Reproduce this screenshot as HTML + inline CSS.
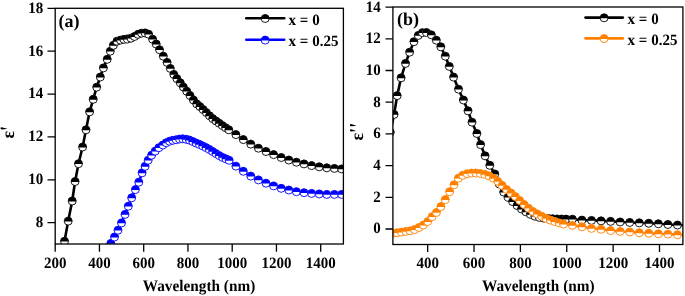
<!DOCTYPE html><html><head><meta charset="utf-8"><style>html,body{margin:0;padding:0;background:#fff;width:685px;height:296px;overflow:hidden}svg{display:block;will-change:transform}text{font-family:"Liberation Serif",serif;font-weight:bold;text-rendering:geometricPrecision}</style></head><body>
<svg width="685" height="296" viewBox="0 0 685 296">
<defs><clipPath id="cl"><rect x="55.2" y="8.3" width="288.2" height="235.7"/></clipPath><clipPath id="cr"><rect x="392.9" y="7.0" width="290.0" height="237.5"/></clipPath></defs>
<path d="M61.00,259.85 L64.50,241.20 L68.20,221.10 L72.20,201.00 L75.10,181.50 L78.50,163.70 L82.60,147.00 L86.00,129.80 L89.60,111.86 L93.20,99.30 L96.70,87.20 L100.30,77.00 L103.40,67.90 L107.20,59.30 L110.30,51.20 L113.40,45.30 L116.92,41.23 L120.44,40.11 L123.96,39.36 L127.48,38.99 L131.00,38.20 L134.52,36.48 L138.04,34.34 L141.56,33.17 L145.08,32.93 L148.60,34.17 L152.60,39.20 L156.20,44.00 L159.50,49.70 L163.30,56.20 L167.10,62.40 L170.30,68.40 L173.80,74.40 L176.90,78.60 L180.30,82.80 L183.30,87.00 L186.70,91.20 L190.00,95.50 L193.40,100.00 L196.70,103.90 L199.91,106.58 L203.12,109.55 L206.33,112.57 L209.54,115.78 L212.75,118.61 L215.96,120.96 L219.17,123.28 L222.38,125.55 L225.59,127.69 L228.80,129.80 L235.90,134.57 L243.30,139.57 L250.80,144.10 L258.40,148.20 L266.00,151.50 L273.60,154.60 L281.20,157.50 L288.80,160.00 L296.40,162.20 L304.00,163.90 L311.60,165.60 L319.20,166.80 L326.80,167.80 L334.40,168.40 L341.60,168.92 L349.20,169.27" fill="none" stroke="#000" stroke-width="2.6" stroke-linejoin="round" clip-path="url(#cl)"/>
<g clip-path="url(#cl)"><circle cx="61.00" cy="259.85" r="4.0" fill="#fff"/><path d="M57.02,260.25A4.0,4.0 0 1 1 64.98,260.25Z" fill="#000"/><circle cx="61.00" cy="259.85" r="4.0" fill="none" stroke="#000" stroke-width="0.9"/><circle cx="64.50" cy="241.20" r="4.0" fill="#fff"/><path d="M60.52,241.60A4.0,4.0 0 1 1 68.48,241.60Z" fill="#000"/><circle cx="64.50" cy="241.20" r="4.0" fill="none" stroke="#000" stroke-width="0.9"/><circle cx="68.20" cy="221.10" r="4.0" fill="#fff"/><path d="M64.22,221.50A4.0,4.0 0 1 1 72.18,221.50Z" fill="#000"/><circle cx="68.20" cy="221.10" r="4.0" fill="none" stroke="#000" stroke-width="0.9"/><circle cx="72.20" cy="201.00" r="4.0" fill="#fff"/><path d="M68.22,201.40A4.0,4.0 0 1 1 76.18,201.40Z" fill="#000"/><circle cx="72.20" cy="201.00" r="4.0" fill="none" stroke="#000" stroke-width="0.9"/><circle cx="75.10" cy="181.50" r="4.0" fill="#fff"/><path d="M71.12,181.90A4.0,4.0 0 1 1 79.08,181.90Z" fill="#000"/><circle cx="75.10" cy="181.50" r="4.0" fill="none" stroke="#000" stroke-width="0.9"/><circle cx="78.50" cy="163.70" r="4.0" fill="#fff"/><path d="M74.52,164.10A4.0,4.0 0 1 1 82.48,164.10Z" fill="#000"/><circle cx="78.50" cy="163.70" r="4.0" fill="none" stroke="#000" stroke-width="0.9"/><circle cx="82.60" cy="147.00" r="4.0" fill="#fff"/><path d="M78.62,147.40A4.0,4.0 0 1 1 86.58,147.40Z" fill="#000"/><circle cx="82.60" cy="147.00" r="4.0" fill="none" stroke="#000" stroke-width="0.9"/><circle cx="86.00" cy="129.80" r="4.0" fill="#fff"/><path d="M82.02,130.20A4.0,4.0 0 1 1 89.98,130.20Z" fill="#000"/><circle cx="86.00" cy="129.80" r="4.0" fill="none" stroke="#000" stroke-width="0.9"/><circle cx="89.60" cy="111.86" r="4.0" fill="#fff"/><path d="M85.62,112.26A4.0,4.0 0 1 1 93.58,112.26Z" fill="#000"/><circle cx="89.60" cy="111.86" r="4.0" fill="none" stroke="#000" stroke-width="0.9"/><circle cx="93.20" cy="99.30" r="4.0" fill="#fff"/><path d="M89.22,99.70A4.0,4.0 0 1 1 97.18,99.70Z" fill="#000"/><circle cx="93.20" cy="99.30" r="4.0" fill="none" stroke="#000" stroke-width="0.9"/><circle cx="96.70" cy="87.20" r="4.0" fill="#fff"/><path d="M92.72,87.60A4.0,4.0 0 1 1 100.68,87.60Z" fill="#000"/><circle cx="96.70" cy="87.20" r="4.0" fill="none" stroke="#000" stroke-width="0.9"/><circle cx="100.30" cy="77.00" r="4.0" fill="#fff"/><path d="M96.32,77.40A4.0,4.0 0 1 1 104.28,77.40Z" fill="#000"/><circle cx="100.30" cy="77.00" r="4.0" fill="none" stroke="#000" stroke-width="0.9"/><circle cx="103.40" cy="67.90" r="4.0" fill="#fff"/><path d="M99.42,68.30A4.0,4.0 0 1 1 107.38,68.30Z" fill="#000"/><circle cx="103.40" cy="67.90" r="4.0" fill="none" stroke="#000" stroke-width="0.9"/><circle cx="107.20" cy="59.30" r="4.0" fill="#fff"/><path d="M103.22,59.70A4.0,4.0 0 1 1 111.18,59.70Z" fill="#000"/><circle cx="107.20" cy="59.30" r="4.0" fill="none" stroke="#000" stroke-width="0.9"/><circle cx="110.30" cy="51.20" r="4.0" fill="#fff"/><path d="M106.32,51.60A4.0,4.0 0 1 1 114.28,51.60Z" fill="#000"/><circle cx="110.30" cy="51.20" r="4.0" fill="none" stroke="#000" stroke-width="0.9"/><circle cx="113.40" cy="45.30" r="4.0" fill="#fff"/><path d="M109.42,45.70A4.0,4.0 0 1 1 117.38,45.70Z" fill="#000"/><circle cx="113.40" cy="45.30" r="4.0" fill="none" stroke="#000" stroke-width="0.9"/><circle cx="116.92" cy="41.23" r="4.0" fill="#fff"/><path d="M112.94,41.63A4.0,4.0 0 1 1 120.90,41.63Z" fill="#000"/><circle cx="116.92" cy="41.23" r="4.0" fill="none" stroke="#000" stroke-width="0.9"/><circle cx="120.44" cy="40.11" r="4.0" fill="#fff"/><path d="M116.46,40.51A4.0,4.0 0 1 1 124.42,40.51Z" fill="#000"/><circle cx="120.44" cy="40.11" r="4.0" fill="none" stroke="#000" stroke-width="0.9"/><circle cx="123.96" cy="39.36" r="4.0" fill="#fff"/><path d="M119.98,39.76A4.0,4.0 0 1 1 127.94,39.76Z" fill="#000"/><circle cx="123.96" cy="39.36" r="4.0" fill="none" stroke="#000" stroke-width="0.9"/><circle cx="127.48" cy="38.99" r="4.0" fill="#fff"/><path d="M123.50,39.39A4.0,4.0 0 1 1 131.46,39.39Z" fill="#000"/><circle cx="127.48" cy="38.99" r="4.0" fill="none" stroke="#000" stroke-width="0.9"/><circle cx="131.00" cy="38.20" r="4.0" fill="#fff"/><path d="M127.02,38.60A4.0,4.0 0 1 1 134.98,38.60Z" fill="#000"/><circle cx="131.00" cy="38.20" r="4.0" fill="none" stroke="#000" stroke-width="0.9"/><circle cx="134.52" cy="36.48" r="4.0" fill="#fff"/><path d="M130.54,36.88A4.0,4.0 0 1 1 138.50,36.88Z" fill="#000"/><circle cx="134.52" cy="36.48" r="4.0" fill="none" stroke="#000" stroke-width="0.9"/><circle cx="138.04" cy="34.34" r="4.0" fill="#fff"/><path d="M134.06,34.74A4.0,4.0 0 1 1 142.02,34.74Z" fill="#000"/><circle cx="138.04" cy="34.34" r="4.0" fill="none" stroke="#000" stroke-width="0.9"/><circle cx="141.56" cy="33.17" r="4.0" fill="#fff"/><path d="M137.58,33.57A4.0,4.0 0 1 1 145.54,33.57Z" fill="#000"/><circle cx="141.56" cy="33.17" r="4.0" fill="none" stroke="#000" stroke-width="0.9"/><circle cx="145.08" cy="32.93" r="4.0" fill="#fff"/><path d="M141.10,33.33A4.0,4.0 0 1 1 149.06,33.33Z" fill="#000"/><circle cx="145.08" cy="32.93" r="4.0" fill="none" stroke="#000" stroke-width="0.9"/><circle cx="148.60" cy="34.17" r="4.0" fill="#fff"/><path d="M144.62,34.57A4.0,4.0 0 1 1 152.58,34.57Z" fill="#000"/><circle cx="148.60" cy="34.17" r="4.0" fill="none" stroke="#000" stroke-width="0.9"/><circle cx="152.60" cy="39.20" r="4.0" fill="#fff"/><path d="M148.62,39.60A4.0,4.0 0 1 1 156.58,39.60Z" fill="#000"/><circle cx="152.60" cy="39.20" r="4.0" fill="none" stroke="#000" stroke-width="0.9"/><circle cx="156.20" cy="44.00" r="4.0" fill="#fff"/><path d="M152.22,44.40A4.0,4.0 0 1 1 160.18,44.40Z" fill="#000"/><circle cx="156.20" cy="44.00" r="4.0" fill="none" stroke="#000" stroke-width="0.9"/><circle cx="159.50" cy="49.70" r="4.0" fill="#fff"/><path d="M155.52,50.10A4.0,4.0 0 1 1 163.48,50.10Z" fill="#000"/><circle cx="159.50" cy="49.70" r="4.0" fill="none" stroke="#000" stroke-width="0.9"/><circle cx="163.30" cy="56.20" r="4.0" fill="#fff"/><path d="M159.32,56.60A4.0,4.0 0 1 1 167.28,56.60Z" fill="#000"/><circle cx="163.30" cy="56.20" r="4.0" fill="none" stroke="#000" stroke-width="0.9"/><circle cx="167.10" cy="62.40" r="4.0" fill="#fff"/><path d="M163.12,62.80A4.0,4.0 0 1 1 171.08,62.80Z" fill="#000"/><circle cx="167.10" cy="62.40" r="4.0" fill="none" stroke="#000" stroke-width="0.9"/><circle cx="170.30" cy="68.40" r="4.0" fill="#fff"/><path d="M166.32,68.80A4.0,4.0 0 1 1 174.28,68.80Z" fill="#000"/><circle cx="170.30" cy="68.40" r="4.0" fill="none" stroke="#000" stroke-width="0.9"/><circle cx="173.80" cy="74.40" r="4.0" fill="#fff"/><path d="M169.82,74.80A4.0,4.0 0 1 1 177.78,74.80Z" fill="#000"/><circle cx="173.80" cy="74.40" r="4.0" fill="none" stroke="#000" stroke-width="0.9"/><circle cx="176.90" cy="78.60" r="4.0" fill="#fff"/><path d="M172.92,79.00A4.0,4.0 0 1 1 180.88,79.00Z" fill="#000"/><circle cx="176.90" cy="78.60" r="4.0" fill="none" stroke="#000" stroke-width="0.9"/><circle cx="180.30" cy="82.80" r="4.0" fill="#fff"/><path d="M176.32,83.20A4.0,4.0 0 1 1 184.28,83.20Z" fill="#000"/><circle cx="180.30" cy="82.80" r="4.0" fill="none" stroke="#000" stroke-width="0.9"/><circle cx="183.30" cy="87.00" r="4.0" fill="#fff"/><path d="M179.32,87.40A4.0,4.0 0 1 1 187.28,87.40Z" fill="#000"/><circle cx="183.30" cy="87.00" r="4.0" fill="none" stroke="#000" stroke-width="0.9"/><circle cx="186.70" cy="91.20" r="4.0" fill="#fff"/><path d="M182.72,91.60A4.0,4.0 0 1 1 190.68,91.60Z" fill="#000"/><circle cx="186.70" cy="91.20" r="4.0" fill="none" stroke="#000" stroke-width="0.9"/><circle cx="190.00" cy="95.50" r="4.0" fill="#fff"/><path d="M186.02,95.90A4.0,4.0 0 1 1 193.98,95.90Z" fill="#000"/><circle cx="190.00" cy="95.50" r="4.0" fill="none" stroke="#000" stroke-width="0.9"/><circle cx="193.40" cy="100.00" r="4.0" fill="#fff"/><path d="M189.42,100.40A4.0,4.0 0 1 1 197.38,100.40Z" fill="#000"/><circle cx="193.40" cy="100.00" r="4.0" fill="none" stroke="#000" stroke-width="0.9"/><circle cx="196.70" cy="103.90" r="4.0" fill="#fff"/><path d="M192.72,104.30A4.0,4.0 0 1 1 200.68,104.30Z" fill="#000"/><circle cx="196.70" cy="103.90" r="4.0" fill="none" stroke="#000" stroke-width="0.9"/><circle cx="199.91" cy="106.58" r="4.0" fill="#fff"/><path d="M195.93,106.98A4.0,4.0 0 1 1 203.89,106.98Z" fill="#000"/><circle cx="199.91" cy="106.58" r="4.0" fill="none" stroke="#000" stroke-width="0.9"/><circle cx="203.12" cy="109.55" r="4.0" fill="#fff"/><path d="M199.14,109.95A4.0,4.0 0 1 1 207.10,109.95Z" fill="#000"/><circle cx="203.12" cy="109.55" r="4.0" fill="none" stroke="#000" stroke-width="0.9"/><circle cx="206.33" cy="112.57" r="4.0" fill="#fff"/><path d="M202.35,112.97A4.0,4.0 0 1 1 210.31,112.97Z" fill="#000"/><circle cx="206.33" cy="112.57" r="4.0" fill="none" stroke="#000" stroke-width="0.9"/><circle cx="209.54" cy="115.78" r="4.0" fill="#fff"/><path d="M205.56,116.18A4.0,4.0 0 1 1 213.52,116.18Z" fill="#000"/><circle cx="209.54" cy="115.78" r="4.0" fill="none" stroke="#000" stroke-width="0.9"/><circle cx="212.75" cy="118.61" r="4.0" fill="#fff"/><path d="M208.77,119.01A4.0,4.0 0 1 1 216.73,119.01Z" fill="#000"/><circle cx="212.75" cy="118.61" r="4.0" fill="none" stroke="#000" stroke-width="0.9"/><circle cx="215.96" cy="120.96" r="4.0" fill="#fff"/><path d="M211.98,121.36A4.0,4.0 0 1 1 219.94,121.36Z" fill="#000"/><circle cx="215.96" cy="120.96" r="4.0" fill="none" stroke="#000" stroke-width="0.9"/><circle cx="219.17" cy="123.28" r="4.0" fill="#fff"/><path d="M215.19,123.68A4.0,4.0 0 1 1 223.15,123.68Z" fill="#000"/><circle cx="219.17" cy="123.28" r="4.0" fill="none" stroke="#000" stroke-width="0.9"/><circle cx="222.38" cy="125.55" r="4.0" fill="#fff"/><path d="M218.40,125.95A4.0,4.0 0 1 1 226.36,125.95Z" fill="#000"/><circle cx="222.38" cy="125.55" r="4.0" fill="none" stroke="#000" stroke-width="0.9"/><circle cx="225.59" cy="127.69" r="4.0" fill="#fff"/><path d="M221.61,128.09A4.0,4.0 0 1 1 229.57,128.09Z" fill="#000"/><circle cx="225.59" cy="127.69" r="4.0" fill="none" stroke="#000" stroke-width="0.9"/><circle cx="228.80" cy="129.80" r="4.0" fill="#fff"/><path d="M224.82,130.20A4.0,4.0 0 1 1 232.78,130.20Z" fill="#000"/><circle cx="228.80" cy="129.80" r="4.0" fill="none" stroke="#000" stroke-width="0.9"/><circle cx="235.90" cy="134.57" r="4.0" fill="#fff"/><path d="M231.92,134.97A4.0,4.0 0 1 1 239.88,134.97Z" fill="#000"/><circle cx="235.90" cy="134.57" r="4.0" fill="none" stroke="#000" stroke-width="0.9"/><circle cx="243.30" cy="139.57" r="4.0" fill="#fff"/><path d="M239.32,139.97A4.0,4.0 0 1 1 247.28,139.97Z" fill="#000"/><circle cx="243.30" cy="139.57" r="4.0" fill="none" stroke="#000" stroke-width="0.9"/><circle cx="250.80" cy="144.10" r="4.0" fill="#fff"/><path d="M246.82,144.50A4.0,4.0 0 1 1 254.78,144.50Z" fill="#000"/><circle cx="250.80" cy="144.10" r="4.0" fill="none" stroke="#000" stroke-width="0.9"/><circle cx="258.40" cy="148.20" r="4.0" fill="#fff"/><path d="M254.42,148.60A4.0,4.0 0 1 1 262.38,148.60Z" fill="#000"/><circle cx="258.40" cy="148.20" r="4.0" fill="none" stroke="#000" stroke-width="0.9"/><circle cx="266.00" cy="151.50" r="4.0" fill="#fff"/><path d="M262.02,151.90A4.0,4.0 0 1 1 269.98,151.90Z" fill="#000"/><circle cx="266.00" cy="151.50" r="4.0" fill="none" stroke="#000" stroke-width="0.9"/><circle cx="273.60" cy="154.60" r="4.0" fill="#fff"/><path d="M269.62,155.00A4.0,4.0 0 1 1 277.58,155.00Z" fill="#000"/><circle cx="273.60" cy="154.60" r="4.0" fill="none" stroke="#000" stroke-width="0.9"/><circle cx="281.20" cy="157.50" r="4.0" fill="#fff"/><path d="M277.22,157.90A4.0,4.0 0 1 1 285.18,157.90Z" fill="#000"/><circle cx="281.20" cy="157.50" r="4.0" fill="none" stroke="#000" stroke-width="0.9"/><circle cx="288.80" cy="160.00" r="4.0" fill="#fff"/><path d="M284.82,160.40A4.0,4.0 0 1 1 292.78,160.40Z" fill="#000"/><circle cx="288.80" cy="160.00" r="4.0" fill="none" stroke="#000" stroke-width="0.9"/><circle cx="296.40" cy="162.20" r="4.0" fill="#fff"/><path d="M292.42,162.60A4.0,4.0 0 1 1 300.38,162.60Z" fill="#000"/><circle cx="296.40" cy="162.20" r="4.0" fill="none" stroke="#000" stroke-width="0.9"/><circle cx="304.00" cy="163.90" r="4.0" fill="#fff"/><path d="M300.02,164.30A4.0,4.0 0 1 1 307.98,164.30Z" fill="#000"/><circle cx="304.00" cy="163.90" r="4.0" fill="none" stroke="#000" stroke-width="0.9"/><circle cx="311.60" cy="165.60" r="4.0" fill="#fff"/><path d="M307.62,166.00A4.0,4.0 0 1 1 315.58,166.00Z" fill="#000"/><circle cx="311.60" cy="165.60" r="4.0" fill="none" stroke="#000" stroke-width="0.9"/><circle cx="319.20" cy="166.80" r="4.0" fill="#fff"/><path d="M315.22,167.20A4.0,4.0 0 1 1 323.18,167.20Z" fill="#000"/><circle cx="319.20" cy="166.80" r="4.0" fill="none" stroke="#000" stroke-width="0.9"/><circle cx="326.80" cy="167.80" r="4.0" fill="#fff"/><path d="M322.82,168.20A4.0,4.0 0 1 1 330.78,168.20Z" fill="#000"/><circle cx="326.80" cy="167.80" r="4.0" fill="none" stroke="#000" stroke-width="0.9"/><circle cx="334.40" cy="168.40" r="4.0" fill="#fff"/><path d="M330.42,168.80A4.0,4.0 0 1 1 338.38,168.80Z" fill="#000"/><circle cx="334.40" cy="168.40" r="4.0" fill="none" stroke="#000" stroke-width="0.9"/><circle cx="341.60" cy="168.92" r="4.0" fill="#fff"/><path d="M337.62,169.32A4.0,4.0 0 1 1 345.58,169.32Z" fill="#000"/><circle cx="341.60" cy="168.92" r="4.0" fill="none" stroke="#000" stroke-width="0.9"/><circle cx="349.20" cy="169.27" r="4.0" fill="#fff"/><path d="M345.22,169.67A4.0,4.0 0 1 1 353.18,169.67Z" fill="#000"/><circle cx="349.20" cy="169.27" r="4.0" fill="none" stroke="#000" stroke-width="0.9"/></g>
<path d="M107.20,248.83 L110.80,243.42 L114.50,237.02 L118.00,230.20 L121.50,222.95 L125.00,214.40 L128.30,206.20 L131.70,197.80 L135.40,189.60 L138.80,182.19 L142.10,172.80 L145.10,166.30 L148.20,160.20 L151.60,155.20 L155.20,151.10 L158.90,147.70 L162.90,145.00 L166.22,142.73 L169.53,141.24 L172.84,140.30 L176.16,139.72 L179.47,139.09 L182.79,138.83 L186.10,139.29 L189.42,140.05 L192.73,141.48 L196.05,143.02 L199.37,144.42 L202.68,145.92 L206.00,147.58 L209.31,149.39 L212.62,151.47 L215.94,153.57 L219.25,155.60 L222.57,157.43 L225.88,158.82 L229.20,160.31 L235.90,166.14 L243.30,171.27 L250.80,176.10 L258.40,179.90 L266.00,183.20 L273.60,185.90 L281.20,188.30 L288.80,190.00 L296.40,191.70 L304.00,192.70 L311.60,193.40 L319.20,193.90 L326.80,194.40 L334.40,194.40 L341.60,194.40 L349.20,194.40" fill="none" stroke="#0000ff" stroke-width="2.6" stroke-linejoin="round" clip-path="url(#cl)"/>
<g clip-path="url(#cl)"><circle cx="107.20" cy="248.83" r="4.0" fill="#fff"/><path d="M103.22,249.23A4.0,4.0 0 1 1 111.18,249.23Z" fill="#0000ff"/><circle cx="107.20" cy="248.83" r="4.0" fill="none" stroke="#0000ff" stroke-width="0.9"/><circle cx="110.80" cy="243.42" r="4.0" fill="#fff"/><path d="M106.82,243.82A4.0,4.0 0 1 1 114.78,243.82Z" fill="#0000ff"/><circle cx="110.80" cy="243.42" r="4.0" fill="none" stroke="#0000ff" stroke-width="0.9"/><circle cx="114.50" cy="237.02" r="4.0" fill="#fff"/><path d="M110.52,237.42A4.0,4.0 0 1 1 118.48,237.42Z" fill="#0000ff"/><circle cx="114.50" cy="237.02" r="4.0" fill="none" stroke="#0000ff" stroke-width="0.9"/><circle cx="118.00" cy="230.20" r="4.0" fill="#fff"/><path d="M114.02,230.60A4.0,4.0 0 1 1 121.98,230.60Z" fill="#0000ff"/><circle cx="118.00" cy="230.20" r="4.0" fill="none" stroke="#0000ff" stroke-width="0.9"/><circle cx="121.50" cy="222.95" r="4.0" fill="#fff"/><path d="M117.52,223.35A4.0,4.0 0 1 1 125.48,223.35Z" fill="#0000ff"/><circle cx="121.50" cy="222.95" r="4.0" fill="none" stroke="#0000ff" stroke-width="0.9"/><circle cx="125.00" cy="214.40" r="4.0" fill="#fff"/><path d="M121.02,214.80A4.0,4.0 0 1 1 128.98,214.80Z" fill="#0000ff"/><circle cx="125.00" cy="214.40" r="4.0" fill="none" stroke="#0000ff" stroke-width="0.9"/><circle cx="128.30" cy="206.20" r="4.0" fill="#fff"/><path d="M124.32,206.60A4.0,4.0 0 1 1 132.28,206.60Z" fill="#0000ff"/><circle cx="128.30" cy="206.20" r="4.0" fill="none" stroke="#0000ff" stroke-width="0.9"/><circle cx="131.70" cy="197.80" r="4.0" fill="#fff"/><path d="M127.72,198.20A4.0,4.0 0 1 1 135.68,198.20Z" fill="#0000ff"/><circle cx="131.70" cy="197.80" r="4.0" fill="none" stroke="#0000ff" stroke-width="0.9"/><circle cx="135.40" cy="189.60" r="4.0" fill="#fff"/><path d="M131.42,190.00A4.0,4.0 0 1 1 139.38,190.00Z" fill="#0000ff"/><circle cx="135.40" cy="189.60" r="4.0" fill="none" stroke="#0000ff" stroke-width="0.9"/><circle cx="138.80" cy="182.19" r="4.0" fill="#fff"/><path d="M134.82,182.59A4.0,4.0 0 1 1 142.78,182.59Z" fill="#0000ff"/><circle cx="138.80" cy="182.19" r="4.0" fill="none" stroke="#0000ff" stroke-width="0.9"/><circle cx="142.10" cy="172.80" r="4.0" fill="#fff"/><path d="M138.12,173.20A4.0,4.0 0 1 1 146.08,173.20Z" fill="#0000ff"/><circle cx="142.10" cy="172.80" r="4.0" fill="none" stroke="#0000ff" stroke-width="0.9"/><circle cx="145.10" cy="166.30" r="4.0" fill="#fff"/><path d="M141.12,166.70A4.0,4.0 0 1 1 149.08,166.70Z" fill="#0000ff"/><circle cx="145.10" cy="166.30" r="4.0" fill="none" stroke="#0000ff" stroke-width="0.9"/><circle cx="148.20" cy="160.20" r="4.0" fill="#fff"/><path d="M144.22,160.60A4.0,4.0 0 1 1 152.18,160.60Z" fill="#0000ff"/><circle cx="148.20" cy="160.20" r="4.0" fill="none" stroke="#0000ff" stroke-width="0.9"/><circle cx="151.60" cy="155.20" r="4.0" fill="#fff"/><path d="M147.62,155.60A4.0,4.0 0 1 1 155.58,155.60Z" fill="#0000ff"/><circle cx="151.60" cy="155.20" r="4.0" fill="none" stroke="#0000ff" stroke-width="0.9"/><circle cx="155.20" cy="151.10" r="4.0" fill="#fff"/><path d="M151.22,151.50A4.0,4.0 0 1 1 159.18,151.50Z" fill="#0000ff"/><circle cx="155.20" cy="151.10" r="4.0" fill="none" stroke="#0000ff" stroke-width="0.9"/><circle cx="158.90" cy="147.70" r="4.0" fill="#fff"/><path d="M154.92,148.10A4.0,4.0 0 1 1 162.88,148.10Z" fill="#0000ff"/><circle cx="158.90" cy="147.70" r="4.0" fill="none" stroke="#0000ff" stroke-width="0.9"/><circle cx="162.90" cy="145.00" r="4.0" fill="#fff"/><path d="M158.92,145.40A4.0,4.0 0 1 1 166.88,145.40Z" fill="#0000ff"/><circle cx="162.90" cy="145.00" r="4.0" fill="none" stroke="#0000ff" stroke-width="0.9"/><circle cx="166.22" cy="142.73" r="4.0" fill="#fff"/><path d="M162.24,143.13A4.0,4.0 0 1 1 170.19,143.13Z" fill="#0000ff"/><circle cx="166.22" cy="142.73" r="4.0" fill="none" stroke="#0000ff" stroke-width="0.9"/><circle cx="169.53" cy="141.24" r="4.0" fill="#fff"/><path d="M165.55,141.64A4.0,4.0 0 1 1 173.51,141.64Z" fill="#0000ff"/><circle cx="169.53" cy="141.24" r="4.0" fill="none" stroke="#0000ff" stroke-width="0.9"/><circle cx="172.84" cy="140.30" r="4.0" fill="#fff"/><path d="M168.87,140.70A4.0,4.0 0 1 1 176.82,140.70Z" fill="#0000ff"/><circle cx="172.84" cy="140.30" r="4.0" fill="none" stroke="#0000ff" stroke-width="0.9"/><circle cx="176.16" cy="139.72" r="4.0" fill="#fff"/><path d="M172.18,140.12A4.0,4.0 0 1 1 180.14,140.12Z" fill="#0000ff"/><circle cx="176.16" cy="139.72" r="4.0" fill="none" stroke="#0000ff" stroke-width="0.9"/><circle cx="179.47" cy="139.09" r="4.0" fill="#fff"/><path d="M175.50,139.49A4.0,4.0 0 1 1 183.45,139.49Z" fill="#0000ff"/><circle cx="179.47" cy="139.09" r="4.0" fill="none" stroke="#0000ff" stroke-width="0.9"/><circle cx="182.79" cy="138.83" r="4.0" fill="#fff"/><path d="M178.81,139.23A4.0,4.0 0 1 1 186.77,139.23Z" fill="#0000ff"/><circle cx="182.79" cy="138.83" r="4.0" fill="none" stroke="#0000ff" stroke-width="0.9"/><circle cx="186.10" cy="139.29" r="4.0" fill="#fff"/><path d="M182.13,139.69A4.0,4.0 0 1 1 190.08,139.69Z" fill="#0000ff"/><circle cx="186.10" cy="139.29" r="4.0" fill="none" stroke="#0000ff" stroke-width="0.9"/><circle cx="189.42" cy="140.05" r="4.0" fill="#fff"/><path d="M185.44,140.45A4.0,4.0 0 1 1 193.40,140.45Z" fill="#0000ff"/><circle cx="189.42" cy="140.05" r="4.0" fill="none" stroke="#0000ff" stroke-width="0.9"/><circle cx="192.73" cy="141.48" r="4.0" fill="#fff"/><path d="M188.76,141.88A4.0,4.0 0 1 1 196.71,141.88Z" fill="#0000ff"/><circle cx="192.73" cy="141.48" r="4.0" fill="none" stroke="#0000ff" stroke-width="0.9"/><circle cx="196.05" cy="143.02" r="4.0" fill="#fff"/><path d="M192.07,143.42A4.0,4.0 0 1 1 200.03,143.42Z" fill="#0000ff"/><circle cx="196.05" cy="143.02" r="4.0" fill="none" stroke="#0000ff" stroke-width="0.9"/><circle cx="199.37" cy="144.42" r="4.0" fill="#fff"/><path d="M195.39,144.82A4.0,4.0 0 1 1 203.34,144.82Z" fill="#0000ff"/><circle cx="199.37" cy="144.42" r="4.0" fill="none" stroke="#0000ff" stroke-width="0.9"/><circle cx="202.68" cy="145.92" r="4.0" fill="#fff"/><path d="M198.70,146.32A4.0,4.0 0 1 1 206.66,146.32Z" fill="#0000ff"/><circle cx="202.68" cy="145.92" r="4.0" fill="none" stroke="#0000ff" stroke-width="0.9"/><circle cx="206.00" cy="147.58" r="4.0" fill="#fff"/><path d="M202.02,147.98A4.0,4.0 0 1 1 209.97,147.98Z" fill="#0000ff"/><circle cx="206.00" cy="147.58" r="4.0" fill="none" stroke="#0000ff" stroke-width="0.9"/><circle cx="209.31" cy="149.39" r="4.0" fill="#fff"/><path d="M205.33,149.79A4.0,4.0 0 1 1 213.29,149.79Z" fill="#0000ff"/><circle cx="209.31" cy="149.39" r="4.0" fill="none" stroke="#0000ff" stroke-width="0.9"/><circle cx="212.62" cy="151.47" r="4.0" fill="#fff"/><path d="M208.65,151.87A4.0,4.0 0 1 1 216.60,151.87Z" fill="#0000ff"/><circle cx="212.62" cy="151.47" r="4.0" fill="none" stroke="#0000ff" stroke-width="0.9"/><circle cx="215.94" cy="153.57" r="4.0" fill="#fff"/><path d="M211.96,153.97A4.0,4.0 0 1 1 219.92,153.97Z" fill="#0000ff"/><circle cx="215.94" cy="153.57" r="4.0" fill="none" stroke="#0000ff" stroke-width="0.9"/><circle cx="219.25" cy="155.60" r="4.0" fill="#fff"/><path d="M215.28,156.00A4.0,4.0 0 1 1 223.23,156.00Z" fill="#0000ff"/><circle cx="219.25" cy="155.60" r="4.0" fill="none" stroke="#0000ff" stroke-width="0.9"/><circle cx="222.57" cy="157.43" r="4.0" fill="#fff"/><path d="M218.59,157.83A4.0,4.0 0 1 1 226.55,157.83Z" fill="#0000ff"/><circle cx="222.57" cy="157.43" r="4.0" fill="none" stroke="#0000ff" stroke-width="0.9"/><circle cx="225.88" cy="158.82" r="4.0" fill="#fff"/><path d="M221.91,159.22A4.0,4.0 0 1 1 229.86,159.22Z" fill="#0000ff"/><circle cx="225.88" cy="158.82" r="4.0" fill="none" stroke="#0000ff" stroke-width="0.9"/><circle cx="229.20" cy="160.31" r="4.0" fill="#fff"/><path d="M225.22,160.71A4.0,4.0 0 1 1 233.18,160.71Z" fill="#0000ff"/><circle cx="229.20" cy="160.31" r="4.0" fill="none" stroke="#0000ff" stroke-width="0.9"/><circle cx="235.90" cy="166.14" r="4.0" fill="#fff"/><path d="M231.92,166.54A4.0,4.0 0 1 1 239.88,166.54Z" fill="#0000ff"/><circle cx="235.90" cy="166.14" r="4.0" fill="none" stroke="#0000ff" stroke-width="0.9"/><circle cx="243.30" cy="171.27" r="4.0" fill="#fff"/><path d="M239.32,171.67A4.0,4.0 0 1 1 247.28,171.67Z" fill="#0000ff"/><circle cx="243.30" cy="171.27" r="4.0" fill="none" stroke="#0000ff" stroke-width="0.9"/><circle cx="250.80" cy="176.10" r="4.0" fill="#fff"/><path d="M246.82,176.50A4.0,4.0 0 1 1 254.78,176.50Z" fill="#0000ff"/><circle cx="250.80" cy="176.10" r="4.0" fill="none" stroke="#0000ff" stroke-width="0.9"/><circle cx="258.40" cy="179.90" r="4.0" fill="#fff"/><path d="M254.42,180.30A4.0,4.0 0 1 1 262.38,180.30Z" fill="#0000ff"/><circle cx="258.40" cy="179.90" r="4.0" fill="none" stroke="#0000ff" stroke-width="0.9"/><circle cx="266.00" cy="183.20" r="4.0" fill="#fff"/><path d="M262.02,183.60A4.0,4.0 0 1 1 269.98,183.60Z" fill="#0000ff"/><circle cx="266.00" cy="183.20" r="4.0" fill="none" stroke="#0000ff" stroke-width="0.9"/><circle cx="273.60" cy="185.90" r="4.0" fill="#fff"/><path d="M269.62,186.30A4.0,4.0 0 1 1 277.58,186.30Z" fill="#0000ff"/><circle cx="273.60" cy="185.90" r="4.0" fill="none" stroke="#0000ff" stroke-width="0.9"/><circle cx="281.20" cy="188.30" r="4.0" fill="#fff"/><path d="M277.22,188.70A4.0,4.0 0 1 1 285.18,188.70Z" fill="#0000ff"/><circle cx="281.20" cy="188.30" r="4.0" fill="none" stroke="#0000ff" stroke-width="0.9"/><circle cx="288.80" cy="190.00" r="4.0" fill="#fff"/><path d="M284.82,190.40A4.0,4.0 0 1 1 292.78,190.40Z" fill="#0000ff"/><circle cx="288.80" cy="190.00" r="4.0" fill="none" stroke="#0000ff" stroke-width="0.9"/><circle cx="296.40" cy="191.70" r="4.0" fill="#fff"/><path d="M292.42,192.10A4.0,4.0 0 1 1 300.38,192.10Z" fill="#0000ff"/><circle cx="296.40" cy="191.70" r="4.0" fill="none" stroke="#0000ff" stroke-width="0.9"/><circle cx="304.00" cy="192.70" r="4.0" fill="#fff"/><path d="M300.02,193.10A4.0,4.0 0 1 1 307.98,193.10Z" fill="#0000ff"/><circle cx="304.00" cy="192.70" r="4.0" fill="none" stroke="#0000ff" stroke-width="0.9"/><circle cx="311.60" cy="193.40" r="4.0" fill="#fff"/><path d="M307.62,193.80A4.0,4.0 0 1 1 315.58,193.80Z" fill="#0000ff"/><circle cx="311.60" cy="193.40" r="4.0" fill="none" stroke="#0000ff" stroke-width="0.9"/><circle cx="319.20" cy="193.90" r="4.0" fill="#fff"/><path d="M315.22,194.30A4.0,4.0 0 1 1 323.18,194.30Z" fill="#0000ff"/><circle cx="319.20" cy="193.90" r="4.0" fill="none" stroke="#0000ff" stroke-width="0.9"/><circle cx="326.80" cy="194.40" r="4.0" fill="#fff"/><path d="M322.82,194.80A4.0,4.0 0 1 1 330.78,194.80Z" fill="#0000ff"/><circle cx="326.80" cy="194.40" r="4.0" fill="none" stroke="#0000ff" stroke-width="0.9"/><circle cx="334.40" cy="194.40" r="4.0" fill="#fff"/><path d="M330.42,194.80A4.0,4.0 0 1 1 338.38,194.80Z" fill="#0000ff"/><circle cx="334.40" cy="194.40" r="4.0" fill="none" stroke="#0000ff" stroke-width="0.9"/><circle cx="341.60" cy="194.40" r="4.0" fill="#fff"/><path d="M337.62,194.80A4.0,4.0 0 1 1 345.58,194.80Z" fill="#0000ff"/><circle cx="341.60" cy="194.40" r="4.0" fill="none" stroke="#0000ff" stroke-width="0.9"/><circle cx="349.20" cy="194.40" r="4.0" fill="#fff"/><path d="M345.22,194.80A4.0,4.0 0 1 1 353.18,194.80Z" fill="#0000ff"/><circle cx="349.20" cy="194.40" r="4.0" fill="none" stroke="#0000ff" stroke-width="0.9"/></g>
<path d="M390.30,132.31 L394.10,114.40 L397.20,95.60 L401.10,77.80 L405.50,63.40 L409.60,52.20 L413.90,41.70 L418.30,35.40 L422.40,32.70 L426.40,32.50 L431.30,34.80 L436.30,40.20 L440.80,46.80 L445.30,56.20 L449.30,66.40 L453.60,77.10 L458.50,89.20 L463.40,100.00 L468.00,110.80 L472.00,122.20 L476.90,133.50 L480.60,144.60 L485.10,155.80 L489.80,165.30 L494.80,174.00 L499.25,184.00 L503.70,192.10 L508.15,197.21 L512.60,201.59 L517.05,205.52 L521.50,208.99 L525.95,211.87 L530.40,214.35 L534.85,216.19 L539.30,217.38 L543.75,218.07 L548.20,218.47 L552.65,218.73 L557.10,218.95 L561.55,219.05 L566.00,219.11 L572.40,219.20 L581.95,220.10 L591.50,220.42 L601.05,220.83 L610.60,221.36 L620.15,221.95 L629.70,222.43 L639.25,222.83 L648.80,223.24 L658.35,223.75 L667.90,224.48 L677.45,225.05 L687.00,225.43" fill="none" stroke="#000" stroke-width="2.6" stroke-linejoin="round" clip-path="url(#cr)"/>
<g clip-path="url(#cr)"><circle cx="390.30" cy="132.31" r="4.0" fill="#fff"/><path d="M386.32,132.71A4.0,4.0 0 1 1 394.28,132.71Z" fill="#000"/><circle cx="390.30" cy="132.31" r="4.0" fill="none" stroke="#000" stroke-width="0.9"/><circle cx="394.10" cy="114.40" r="4.0" fill="#fff"/><path d="M390.12,114.80A4.0,4.0 0 1 1 398.08,114.80Z" fill="#000"/><circle cx="394.10" cy="114.40" r="4.0" fill="none" stroke="#000" stroke-width="0.9"/><circle cx="397.20" cy="95.60" r="4.0" fill="#fff"/><path d="M393.22,96.00A4.0,4.0 0 1 1 401.18,96.00Z" fill="#000"/><circle cx="397.20" cy="95.60" r="4.0" fill="none" stroke="#000" stroke-width="0.9"/><circle cx="401.10" cy="77.80" r="4.0" fill="#fff"/><path d="M397.12,78.20A4.0,4.0 0 1 1 405.08,78.20Z" fill="#000"/><circle cx="401.10" cy="77.80" r="4.0" fill="none" stroke="#000" stroke-width="0.9"/><circle cx="405.50" cy="63.40" r="4.0" fill="#fff"/><path d="M401.52,63.80A4.0,4.0 0 1 1 409.48,63.80Z" fill="#000"/><circle cx="405.50" cy="63.40" r="4.0" fill="none" stroke="#000" stroke-width="0.9"/><circle cx="409.60" cy="52.20" r="4.0" fill="#fff"/><path d="M405.62,52.60A4.0,4.0 0 1 1 413.58,52.60Z" fill="#000"/><circle cx="409.60" cy="52.20" r="4.0" fill="none" stroke="#000" stroke-width="0.9"/><circle cx="413.90" cy="41.70" r="4.0" fill="#fff"/><path d="M409.92,42.10A4.0,4.0 0 1 1 417.88,42.10Z" fill="#000"/><circle cx="413.90" cy="41.70" r="4.0" fill="none" stroke="#000" stroke-width="0.9"/><circle cx="418.30" cy="35.40" r="4.0" fill="#fff"/><path d="M414.32,35.80A4.0,4.0 0 1 1 422.28,35.80Z" fill="#000"/><circle cx="418.30" cy="35.40" r="4.0" fill="none" stroke="#000" stroke-width="0.9"/><circle cx="422.40" cy="32.70" r="4.0" fill="#fff"/><path d="M418.42,33.10A4.0,4.0 0 1 1 426.38,33.10Z" fill="#000"/><circle cx="422.40" cy="32.70" r="4.0" fill="none" stroke="#000" stroke-width="0.9"/><circle cx="426.40" cy="32.50" r="4.0" fill="#fff"/><path d="M422.42,32.90A4.0,4.0 0 1 1 430.38,32.90Z" fill="#000"/><circle cx="426.40" cy="32.50" r="4.0" fill="none" stroke="#000" stroke-width="0.9"/><circle cx="431.30" cy="34.80" r="4.0" fill="#fff"/><path d="M427.32,35.20A4.0,4.0 0 1 1 435.28,35.20Z" fill="#000"/><circle cx="431.30" cy="34.80" r="4.0" fill="none" stroke="#000" stroke-width="0.9"/><circle cx="436.30" cy="40.20" r="4.0" fill="#fff"/><path d="M432.32,40.60A4.0,4.0 0 1 1 440.28,40.60Z" fill="#000"/><circle cx="436.30" cy="40.20" r="4.0" fill="none" stroke="#000" stroke-width="0.9"/><circle cx="440.80" cy="46.80" r="4.0" fill="#fff"/><path d="M436.82,47.20A4.0,4.0 0 1 1 444.78,47.20Z" fill="#000"/><circle cx="440.80" cy="46.80" r="4.0" fill="none" stroke="#000" stroke-width="0.9"/><circle cx="445.30" cy="56.20" r="4.0" fill="#fff"/><path d="M441.32,56.60A4.0,4.0 0 1 1 449.28,56.60Z" fill="#000"/><circle cx="445.30" cy="56.20" r="4.0" fill="none" stroke="#000" stroke-width="0.9"/><circle cx="449.30" cy="66.40" r="4.0" fill="#fff"/><path d="M445.32,66.80A4.0,4.0 0 1 1 453.28,66.80Z" fill="#000"/><circle cx="449.30" cy="66.40" r="4.0" fill="none" stroke="#000" stroke-width="0.9"/><circle cx="453.60" cy="77.10" r="4.0" fill="#fff"/><path d="M449.62,77.50A4.0,4.0 0 1 1 457.58,77.50Z" fill="#000"/><circle cx="453.60" cy="77.10" r="4.0" fill="none" stroke="#000" stroke-width="0.9"/><circle cx="458.50" cy="89.20" r="4.0" fill="#fff"/><path d="M454.52,89.60A4.0,4.0 0 1 1 462.48,89.60Z" fill="#000"/><circle cx="458.50" cy="89.20" r="4.0" fill="none" stroke="#000" stroke-width="0.9"/><circle cx="463.40" cy="100.00" r="4.0" fill="#fff"/><path d="M459.42,100.40A4.0,4.0 0 1 1 467.38,100.40Z" fill="#000"/><circle cx="463.40" cy="100.00" r="4.0" fill="none" stroke="#000" stroke-width="0.9"/><circle cx="468.00" cy="110.80" r="4.0" fill="#fff"/><path d="M464.02,111.20A4.0,4.0 0 1 1 471.98,111.20Z" fill="#000"/><circle cx="468.00" cy="110.80" r="4.0" fill="none" stroke="#000" stroke-width="0.9"/><circle cx="472.00" cy="122.20" r="4.0" fill="#fff"/><path d="M468.02,122.60A4.0,4.0 0 1 1 475.98,122.60Z" fill="#000"/><circle cx="472.00" cy="122.20" r="4.0" fill="none" stroke="#000" stroke-width="0.9"/><circle cx="476.90" cy="133.50" r="4.0" fill="#fff"/><path d="M472.92,133.90A4.0,4.0 0 1 1 480.88,133.90Z" fill="#000"/><circle cx="476.90" cy="133.50" r="4.0" fill="none" stroke="#000" stroke-width="0.9"/><circle cx="480.60" cy="144.60" r="4.0" fill="#fff"/><path d="M476.62,145.00A4.0,4.0 0 1 1 484.58,145.00Z" fill="#000"/><circle cx="480.60" cy="144.60" r="4.0" fill="none" stroke="#000" stroke-width="0.9"/><circle cx="485.10" cy="155.80" r="4.0" fill="#fff"/><path d="M481.12,156.20A4.0,4.0 0 1 1 489.08,156.20Z" fill="#000"/><circle cx="485.10" cy="155.80" r="4.0" fill="none" stroke="#000" stroke-width="0.9"/><circle cx="489.80" cy="165.30" r="4.0" fill="#fff"/><path d="M485.82,165.70A4.0,4.0 0 1 1 493.78,165.70Z" fill="#000"/><circle cx="489.80" cy="165.30" r="4.0" fill="none" stroke="#000" stroke-width="0.9"/><circle cx="494.80" cy="174.00" r="4.0" fill="#fff"/><path d="M490.82,174.40A4.0,4.0 0 1 1 498.78,174.40Z" fill="#000"/><circle cx="494.80" cy="174.00" r="4.0" fill="none" stroke="#000" stroke-width="0.9"/><circle cx="499.25" cy="184.00" r="4.0" fill="#fff"/><path d="M495.27,184.40A4.0,4.0 0 1 1 503.23,184.40Z" fill="#000"/><circle cx="499.25" cy="184.00" r="4.0" fill="none" stroke="#000" stroke-width="0.9"/><circle cx="503.70" cy="192.10" r="4.0" fill="#fff"/><path d="M499.72,192.50A4.0,4.0 0 1 1 507.68,192.50Z" fill="#000"/><circle cx="503.70" cy="192.10" r="4.0" fill="none" stroke="#000" stroke-width="0.9"/><circle cx="508.15" cy="197.21" r="4.0" fill="#fff"/><path d="M504.17,197.61A4.0,4.0 0 1 1 512.13,197.61Z" fill="#000"/><circle cx="508.15" cy="197.21" r="4.0" fill="none" stroke="#000" stroke-width="0.9"/><circle cx="512.60" cy="201.59" r="4.0" fill="#fff"/><path d="M508.62,201.99A4.0,4.0 0 1 1 516.58,201.99Z" fill="#000"/><circle cx="512.60" cy="201.59" r="4.0" fill="none" stroke="#000" stroke-width="0.9"/><circle cx="517.05" cy="205.52" r="4.0" fill="#fff"/><path d="M513.07,205.92A4.0,4.0 0 1 1 521.03,205.92Z" fill="#000"/><circle cx="517.05" cy="205.52" r="4.0" fill="none" stroke="#000" stroke-width="0.9"/><circle cx="521.50" cy="208.99" r="4.0" fill="#fff"/><path d="M517.52,209.39A4.0,4.0 0 1 1 525.48,209.39Z" fill="#000"/><circle cx="521.50" cy="208.99" r="4.0" fill="none" stroke="#000" stroke-width="0.9"/><circle cx="525.95" cy="211.87" r="4.0" fill="#fff"/><path d="M521.97,212.27A4.0,4.0 0 1 1 529.93,212.27Z" fill="#000"/><circle cx="525.95" cy="211.87" r="4.0" fill="none" stroke="#000" stroke-width="0.9"/><circle cx="530.40" cy="214.35" r="4.0" fill="#fff"/><path d="M526.42,214.75A4.0,4.0 0 1 1 534.38,214.75Z" fill="#000"/><circle cx="530.40" cy="214.35" r="4.0" fill="none" stroke="#000" stroke-width="0.9"/><circle cx="534.85" cy="216.19" r="4.0" fill="#fff"/><path d="M530.87,216.59A4.0,4.0 0 1 1 538.83,216.59Z" fill="#000"/><circle cx="534.85" cy="216.19" r="4.0" fill="none" stroke="#000" stroke-width="0.9"/><circle cx="539.30" cy="217.38" r="4.0" fill="#fff"/><path d="M535.32,217.78A4.0,4.0 0 1 1 543.28,217.78Z" fill="#000"/><circle cx="539.30" cy="217.38" r="4.0" fill="none" stroke="#000" stroke-width="0.9"/><circle cx="543.75" cy="218.07" r="4.0" fill="#fff"/><path d="M539.77,218.47A4.0,4.0 0 1 1 547.73,218.47Z" fill="#000"/><circle cx="543.75" cy="218.07" r="4.0" fill="none" stroke="#000" stroke-width="0.9"/><circle cx="548.20" cy="218.47" r="4.0" fill="#fff"/><path d="M544.22,218.87A4.0,4.0 0 1 1 552.18,218.87Z" fill="#000"/><circle cx="548.20" cy="218.47" r="4.0" fill="none" stroke="#000" stroke-width="0.9"/><circle cx="552.65" cy="218.73" r="4.0" fill="#fff"/><path d="M548.67,219.13A4.0,4.0 0 1 1 556.63,219.13Z" fill="#000"/><circle cx="552.65" cy="218.73" r="4.0" fill="none" stroke="#000" stroke-width="0.9"/><circle cx="557.10" cy="218.95" r="4.0" fill="#fff"/><path d="M553.12,219.35A4.0,4.0 0 1 1 561.08,219.35Z" fill="#000"/><circle cx="557.10" cy="218.95" r="4.0" fill="none" stroke="#000" stroke-width="0.9"/><circle cx="561.55" cy="219.05" r="4.0" fill="#fff"/><path d="M557.57,219.45A4.0,4.0 0 1 1 565.53,219.45Z" fill="#000"/><circle cx="561.55" cy="219.05" r="4.0" fill="none" stroke="#000" stroke-width="0.9"/><circle cx="566.00" cy="219.11" r="4.0" fill="#fff"/><path d="M562.02,219.51A4.0,4.0 0 1 1 569.98,219.51Z" fill="#000"/><circle cx="566.00" cy="219.11" r="4.0" fill="none" stroke="#000" stroke-width="0.9"/><circle cx="572.40" cy="219.20" r="4.0" fill="#fff"/><path d="M568.42,219.60A4.0,4.0 0 1 1 576.38,219.60Z" fill="#000"/><circle cx="572.40" cy="219.20" r="4.0" fill="none" stroke="#000" stroke-width="0.9"/><circle cx="581.95" cy="220.10" r="4.0" fill="#fff"/><path d="M577.97,220.50A4.0,4.0 0 1 1 585.93,220.50Z" fill="#000"/><circle cx="581.95" cy="220.10" r="4.0" fill="none" stroke="#000" stroke-width="0.9"/><circle cx="591.50" cy="220.42" r="4.0" fill="#fff"/><path d="M587.52,220.82A4.0,4.0 0 1 1 595.48,220.82Z" fill="#000"/><circle cx="591.50" cy="220.42" r="4.0" fill="none" stroke="#000" stroke-width="0.9"/><circle cx="601.05" cy="220.83" r="4.0" fill="#fff"/><path d="M597.07,221.23A4.0,4.0 0 1 1 605.03,221.23Z" fill="#000"/><circle cx="601.05" cy="220.83" r="4.0" fill="none" stroke="#000" stroke-width="0.9"/><circle cx="610.60" cy="221.36" r="4.0" fill="#fff"/><path d="M606.62,221.76A4.0,4.0 0 1 1 614.58,221.76Z" fill="#000"/><circle cx="610.60" cy="221.36" r="4.0" fill="none" stroke="#000" stroke-width="0.9"/><circle cx="620.15" cy="221.95" r="4.0" fill="#fff"/><path d="M616.17,222.35A4.0,4.0 0 1 1 624.13,222.35Z" fill="#000"/><circle cx="620.15" cy="221.95" r="4.0" fill="none" stroke="#000" stroke-width="0.9"/><circle cx="629.70" cy="222.43" r="4.0" fill="#fff"/><path d="M625.72,222.83A4.0,4.0 0 1 1 633.68,222.83Z" fill="#000"/><circle cx="629.70" cy="222.43" r="4.0" fill="none" stroke="#000" stroke-width="0.9"/><circle cx="639.25" cy="222.83" r="4.0" fill="#fff"/><path d="M635.27,223.23A4.0,4.0 0 1 1 643.23,223.23Z" fill="#000"/><circle cx="639.25" cy="222.83" r="4.0" fill="none" stroke="#000" stroke-width="0.9"/><circle cx="648.80" cy="223.24" r="4.0" fill="#fff"/><path d="M644.82,223.64A4.0,4.0 0 1 1 652.78,223.64Z" fill="#000"/><circle cx="648.80" cy="223.24" r="4.0" fill="none" stroke="#000" stroke-width="0.9"/><circle cx="658.35" cy="223.75" r="4.0" fill="#fff"/><path d="M654.37,224.15A4.0,4.0 0 1 1 662.33,224.15Z" fill="#000"/><circle cx="658.35" cy="223.75" r="4.0" fill="none" stroke="#000" stroke-width="0.9"/><circle cx="667.90" cy="224.48" r="4.0" fill="#fff"/><path d="M663.92,224.88A4.0,4.0 0 1 1 671.88,224.88Z" fill="#000"/><circle cx="667.90" cy="224.48" r="4.0" fill="none" stroke="#000" stroke-width="0.9"/><circle cx="677.45" cy="225.05" r="4.0" fill="#fff"/><path d="M673.47,225.45A4.0,4.0 0 1 1 681.43,225.45Z" fill="#000"/><circle cx="677.45" cy="225.05" r="4.0" fill="none" stroke="#000" stroke-width="0.9"/><circle cx="687.00" cy="225.43" r="4.0" fill="#fff"/><path d="M683.02,225.83A4.0,4.0 0 1 1 690.98,225.83Z" fill="#000"/><circle cx="687.00" cy="225.43" r="4.0" fill="none" stroke="#000" stroke-width="0.9"/></g>
<path d="M388.30,233.77 L392.68,233.34 L397.06,232.76 L401.44,232.11 L405.82,231.38 L410.20,230.82 L414.58,229.55 L418.96,227.53 L423.34,225.05 L427.72,221.56 L432.10,216.68 L436.48,212.42 L440.86,206.59 L445.24,199.60 L449.62,191.70 L454.00,184.77 L458.38,178.16 L462.76,175.30 L467.14,173.71 L471.52,173.10 L475.90,173.06 L480.28,173.47 L484.66,174.36 L489.04,175.84 L493.42,178.25 L497.80,181.32 L502.18,185.43 L506.56,189.46 L510.94,192.98 L515.32,196.53 L519.70,200.49 L524.08,204.49 L528.46,208.15 L532.84,211.44 L537.22,213.98 L541.60,216.15 L545.98,218.26 L550.36,220.12 L554.74,221.59 L559.12,222.89 L563.50,224.10 L572.40,225.40 L581.95,226.81 L591.50,228.36 L601.05,229.27 L610.60,230.61 L620.15,231.45 L629.70,231.95 L639.25,232.75 L648.80,233.25 L658.35,233.83 L667.90,234.15 L677.45,234.75 L687.00,235.13" fill="none" stroke="#ff8000" stroke-width="2.6" stroke-linejoin="round" clip-path="url(#cr)"/>
<g clip-path="url(#cr)"><circle cx="388.30" cy="233.77" r="4.0" fill="#fff"/><path d="M384.32,234.17A4.0,4.0 0 1 1 392.28,234.17Z" fill="#ff8000"/><circle cx="388.30" cy="233.77" r="4.0" fill="none" stroke="#ff8000" stroke-width="0.9"/><circle cx="392.68" cy="233.34" r="4.0" fill="#fff"/><path d="M388.70,233.74A4.0,4.0 0 1 1 396.66,233.74Z" fill="#ff8000"/><circle cx="392.68" cy="233.34" r="4.0" fill="none" stroke="#ff8000" stroke-width="0.9"/><circle cx="397.06" cy="232.76" r="4.0" fill="#fff"/><path d="M393.08,233.16A4.0,4.0 0 1 1 401.04,233.16Z" fill="#ff8000"/><circle cx="397.06" cy="232.76" r="4.0" fill="none" stroke="#ff8000" stroke-width="0.9"/><circle cx="401.44" cy="232.11" r="4.0" fill="#fff"/><path d="M397.46,232.51A4.0,4.0 0 1 1 405.42,232.51Z" fill="#ff8000"/><circle cx="401.44" cy="232.11" r="4.0" fill="none" stroke="#ff8000" stroke-width="0.9"/><circle cx="405.82" cy="231.38" r="4.0" fill="#fff"/><path d="M401.84,231.78A4.0,4.0 0 1 1 409.80,231.78Z" fill="#ff8000"/><circle cx="405.82" cy="231.38" r="4.0" fill="none" stroke="#ff8000" stroke-width="0.9"/><circle cx="410.20" cy="230.82" r="4.0" fill="#fff"/><path d="M406.22,231.22A4.0,4.0 0 1 1 414.18,231.22Z" fill="#ff8000"/><circle cx="410.20" cy="230.82" r="4.0" fill="none" stroke="#ff8000" stroke-width="0.9"/><circle cx="414.58" cy="229.55" r="4.0" fill="#fff"/><path d="M410.60,229.95A4.0,4.0 0 1 1 418.56,229.95Z" fill="#ff8000"/><circle cx="414.58" cy="229.55" r="4.0" fill="none" stroke="#ff8000" stroke-width="0.9"/><circle cx="418.96" cy="227.53" r="4.0" fill="#fff"/><path d="M414.98,227.93A4.0,4.0 0 1 1 422.94,227.93Z" fill="#ff8000"/><circle cx="418.96" cy="227.53" r="4.0" fill="none" stroke="#ff8000" stroke-width="0.9"/><circle cx="423.34" cy="225.05" r="4.0" fill="#fff"/><path d="M419.36,225.45A4.0,4.0 0 1 1 427.32,225.45Z" fill="#ff8000"/><circle cx="423.34" cy="225.05" r="4.0" fill="none" stroke="#ff8000" stroke-width="0.9"/><circle cx="427.72" cy="221.56" r="4.0" fill="#fff"/><path d="M423.74,221.96A4.0,4.0 0 1 1 431.70,221.96Z" fill="#ff8000"/><circle cx="427.72" cy="221.56" r="4.0" fill="none" stroke="#ff8000" stroke-width="0.9"/><circle cx="432.10" cy="216.68" r="4.0" fill="#fff"/><path d="M428.12,217.08A4.0,4.0 0 1 1 436.08,217.08Z" fill="#ff8000"/><circle cx="432.10" cy="216.68" r="4.0" fill="none" stroke="#ff8000" stroke-width="0.9"/><circle cx="436.48" cy="212.42" r="4.0" fill="#fff"/><path d="M432.50,212.82A4.0,4.0 0 1 1 440.46,212.82Z" fill="#ff8000"/><circle cx="436.48" cy="212.42" r="4.0" fill="none" stroke="#ff8000" stroke-width="0.9"/><circle cx="440.86" cy="206.59" r="4.0" fill="#fff"/><path d="M436.88,206.99A4.0,4.0 0 1 1 444.84,206.99Z" fill="#ff8000"/><circle cx="440.86" cy="206.59" r="4.0" fill="none" stroke="#ff8000" stroke-width="0.9"/><circle cx="445.24" cy="199.60" r="4.0" fill="#fff"/><path d="M441.26,200.00A4.0,4.0 0 1 1 449.22,200.00Z" fill="#ff8000"/><circle cx="445.24" cy="199.60" r="4.0" fill="none" stroke="#ff8000" stroke-width="0.9"/><circle cx="449.62" cy="191.70" r="4.0" fill="#fff"/><path d="M445.64,192.10A4.0,4.0 0 1 1 453.60,192.10Z" fill="#ff8000"/><circle cx="449.62" cy="191.70" r="4.0" fill="none" stroke="#ff8000" stroke-width="0.9"/><circle cx="454.00" cy="184.77" r="4.0" fill="#fff"/><path d="M450.02,185.17A4.0,4.0 0 1 1 457.98,185.17Z" fill="#ff8000"/><circle cx="454.00" cy="184.77" r="4.0" fill="none" stroke="#ff8000" stroke-width="0.9"/><circle cx="458.38" cy="178.16" r="4.0" fill="#fff"/><path d="M454.40,178.56A4.0,4.0 0 1 1 462.36,178.56Z" fill="#ff8000"/><circle cx="458.38" cy="178.16" r="4.0" fill="none" stroke="#ff8000" stroke-width="0.9"/><circle cx="462.76" cy="175.30" r="4.0" fill="#fff"/><path d="M458.78,175.70A4.0,4.0 0 1 1 466.74,175.70Z" fill="#ff8000"/><circle cx="462.76" cy="175.30" r="4.0" fill="none" stroke="#ff8000" stroke-width="0.9"/><circle cx="467.14" cy="173.71" r="4.0" fill="#fff"/><path d="M463.16,174.11A4.0,4.0 0 1 1 471.12,174.11Z" fill="#ff8000"/><circle cx="467.14" cy="173.71" r="4.0" fill="none" stroke="#ff8000" stroke-width="0.9"/><circle cx="471.52" cy="173.10" r="4.0" fill="#fff"/><path d="M467.54,173.50A4.0,4.0 0 1 1 475.50,173.50Z" fill="#ff8000"/><circle cx="471.52" cy="173.10" r="4.0" fill="none" stroke="#ff8000" stroke-width="0.9"/><circle cx="475.90" cy="173.06" r="4.0" fill="#fff"/><path d="M471.92,173.46A4.0,4.0 0 1 1 479.88,173.46Z" fill="#ff8000"/><circle cx="475.90" cy="173.06" r="4.0" fill="none" stroke="#ff8000" stroke-width="0.9"/><circle cx="480.28" cy="173.47" r="4.0" fill="#fff"/><path d="M476.30,173.87A4.0,4.0 0 1 1 484.26,173.87Z" fill="#ff8000"/><circle cx="480.28" cy="173.47" r="4.0" fill="none" stroke="#ff8000" stroke-width="0.9"/><circle cx="484.66" cy="174.36" r="4.0" fill="#fff"/><path d="M480.68,174.76A4.0,4.0 0 1 1 488.64,174.76Z" fill="#ff8000"/><circle cx="484.66" cy="174.36" r="4.0" fill="none" stroke="#ff8000" stroke-width="0.9"/><circle cx="489.04" cy="175.84" r="4.0" fill="#fff"/><path d="M485.06,176.24A4.0,4.0 0 1 1 493.02,176.24Z" fill="#ff8000"/><circle cx="489.04" cy="175.84" r="4.0" fill="none" stroke="#ff8000" stroke-width="0.9"/><circle cx="493.42" cy="178.25" r="4.0" fill="#fff"/><path d="M489.44,178.65A4.0,4.0 0 1 1 497.40,178.65Z" fill="#ff8000"/><circle cx="493.42" cy="178.25" r="4.0" fill="none" stroke="#ff8000" stroke-width="0.9"/><circle cx="497.80" cy="181.32" r="4.0" fill="#fff"/><path d="M493.82,181.72A4.0,4.0 0 1 1 501.78,181.72Z" fill="#ff8000"/><circle cx="497.80" cy="181.32" r="4.0" fill="none" stroke="#ff8000" stroke-width="0.9"/><circle cx="502.18" cy="185.43" r="4.0" fill="#fff"/><path d="M498.20,185.83A4.0,4.0 0 1 1 506.16,185.83Z" fill="#ff8000"/><circle cx="502.18" cy="185.43" r="4.0" fill="none" stroke="#ff8000" stroke-width="0.9"/><circle cx="506.56" cy="189.46" r="4.0" fill="#fff"/><path d="M502.58,189.86A4.0,4.0 0 1 1 510.54,189.86Z" fill="#ff8000"/><circle cx="506.56" cy="189.46" r="4.0" fill="none" stroke="#ff8000" stroke-width="0.9"/><circle cx="510.94" cy="192.98" r="4.0" fill="#fff"/><path d="M506.96,193.38A4.0,4.0 0 1 1 514.92,193.38Z" fill="#ff8000"/><circle cx="510.94" cy="192.98" r="4.0" fill="none" stroke="#ff8000" stroke-width="0.9"/><circle cx="515.32" cy="196.53" r="4.0" fill="#fff"/><path d="M511.34,196.93A4.0,4.0 0 1 1 519.30,196.93Z" fill="#ff8000"/><circle cx="515.32" cy="196.53" r="4.0" fill="none" stroke="#ff8000" stroke-width="0.9"/><circle cx="519.70" cy="200.49" r="4.0" fill="#fff"/><path d="M515.72,200.89A4.0,4.0 0 1 1 523.68,200.89Z" fill="#ff8000"/><circle cx="519.70" cy="200.49" r="4.0" fill="none" stroke="#ff8000" stroke-width="0.9"/><circle cx="524.08" cy="204.49" r="4.0" fill="#fff"/><path d="M520.10,204.89A4.0,4.0 0 1 1 528.06,204.89Z" fill="#ff8000"/><circle cx="524.08" cy="204.49" r="4.0" fill="none" stroke="#ff8000" stroke-width="0.9"/><circle cx="528.46" cy="208.15" r="4.0" fill="#fff"/><path d="M524.48,208.55A4.0,4.0 0 1 1 532.44,208.55Z" fill="#ff8000"/><circle cx="528.46" cy="208.15" r="4.0" fill="none" stroke="#ff8000" stroke-width="0.9"/><circle cx="532.84" cy="211.44" r="4.0" fill="#fff"/><path d="M528.86,211.84A4.0,4.0 0 1 1 536.82,211.84Z" fill="#ff8000"/><circle cx="532.84" cy="211.44" r="4.0" fill="none" stroke="#ff8000" stroke-width="0.9"/><circle cx="537.22" cy="213.98" r="4.0" fill="#fff"/><path d="M533.24,214.38A4.0,4.0 0 1 1 541.20,214.38Z" fill="#ff8000"/><circle cx="537.22" cy="213.98" r="4.0" fill="none" stroke="#ff8000" stroke-width="0.9"/><circle cx="541.60" cy="216.15" r="4.0" fill="#fff"/><path d="M537.62,216.55A4.0,4.0 0 1 1 545.58,216.55Z" fill="#ff8000"/><circle cx="541.60" cy="216.15" r="4.0" fill="none" stroke="#ff8000" stroke-width="0.9"/><circle cx="545.98" cy="218.26" r="4.0" fill="#fff"/><path d="M542.00,218.66A4.0,4.0 0 1 1 549.96,218.66Z" fill="#ff8000"/><circle cx="545.98" cy="218.26" r="4.0" fill="none" stroke="#ff8000" stroke-width="0.9"/><circle cx="550.36" cy="220.12" r="4.0" fill="#fff"/><path d="M546.38,220.52A4.0,4.0 0 1 1 554.34,220.52Z" fill="#ff8000"/><circle cx="550.36" cy="220.12" r="4.0" fill="none" stroke="#ff8000" stroke-width="0.9"/><circle cx="554.74" cy="221.59" r="4.0" fill="#fff"/><path d="M550.76,221.99A4.0,4.0 0 1 1 558.72,221.99Z" fill="#ff8000"/><circle cx="554.74" cy="221.59" r="4.0" fill="none" stroke="#ff8000" stroke-width="0.9"/><circle cx="559.12" cy="222.89" r="4.0" fill="#fff"/><path d="M555.14,223.29A4.0,4.0 0 1 1 563.10,223.29Z" fill="#ff8000"/><circle cx="559.12" cy="222.89" r="4.0" fill="none" stroke="#ff8000" stroke-width="0.9"/><circle cx="563.50" cy="224.10" r="4.0" fill="#fff"/><path d="M559.52,224.50A4.0,4.0 0 1 1 567.48,224.50Z" fill="#ff8000"/><circle cx="563.50" cy="224.10" r="4.0" fill="none" stroke="#ff8000" stroke-width="0.9"/><circle cx="572.40" cy="225.40" r="4.0" fill="#fff"/><path d="M568.42,225.80A4.0,4.0 0 1 1 576.38,225.80Z" fill="#ff8000"/><circle cx="572.40" cy="225.40" r="4.0" fill="none" stroke="#ff8000" stroke-width="0.9"/><circle cx="581.95" cy="226.81" r="4.0" fill="#fff"/><path d="M577.97,227.21A4.0,4.0 0 1 1 585.93,227.21Z" fill="#ff8000"/><circle cx="581.95" cy="226.81" r="4.0" fill="none" stroke="#ff8000" stroke-width="0.9"/><circle cx="591.50" cy="228.36" r="4.0" fill="#fff"/><path d="M587.52,228.76A4.0,4.0 0 1 1 595.48,228.76Z" fill="#ff8000"/><circle cx="591.50" cy="228.36" r="4.0" fill="none" stroke="#ff8000" stroke-width="0.9"/><circle cx="601.05" cy="229.27" r="4.0" fill="#fff"/><path d="M597.07,229.67A4.0,4.0 0 1 1 605.03,229.67Z" fill="#ff8000"/><circle cx="601.05" cy="229.27" r="4.0" fill="none" stroke="#ff8000" stroke-width="0.9"/><circle cx="610.60" cy="230.61" r="4.0" fill="#fff"/><path d="M606.62,231.01A4.0,4.0 0 1 1 614.58,231.01Z" fill="#ff8000"/><circle cx="610.60" cy="230.61" r="4.0" fill="none" stroke="#ff8000" stroke-width="0.9"/><circle cx="620.15" cy="231.45" r="4.0" fill="#fff"/><path d="M616.17,231.85A4.0,4.0 0 1 1 624.13,231.85Z" fill="#ff8000"/><circle cx="620.15" cy="231.45" r="4.0" fill="none" stroke="#ff8000" stroke-width="0.9"/><circle cx="629.70" cy="231.95" r="4.0" fill="#fff"/><path d="M625.72,232.35A4.0,4.0 0 1 1 633.68,232.35Z" fill="#ff8000"/><circle cx="629.70" cy="231.95" r="4.0" fill="none" stroke="#ff8000" stroke-width="0.9"/><circle cx="639.25" cy="232.75" r="4.0" fill="#fff"/><path d="M635.27,233.15A4.0,4.0 0 1 1 643.23,233.15Z" fill="#ff8000"/><circle cx="639.25" cy="232.75" r="4.0" fill="none" stroke="#ff8000" stroke-width="0.9"/><circle cx="648.80" cy="233.25" r="4.0" fill="#fff"/><path d="M644.82,233.65A4.0,4.0 0 1 1 652.78,233.65Z" fill="#ff8000"/><circle cx="648.80" cy="233.25" r="4.0" fill="none" stroke="#ff8000" stroke-width="0.9"/><circle cx="658.35" cy="233.83" r="4.0" fill="#fff"/><path d="M654.37,234.23A4.0,4.0 0 1 1 662.33,234.23Z" fill="#ff8000"/><circle cx="658.35" cy="233.83" r="4.0" fill="none" stroke="#ff8000" stroke-width="0.9"/><circle cx="667.90" cy="234.15" r="4.0" fill="#fff"/><path d="M663.92,234.55A4.0,4.0 0 1 1 671.88,234.55Z" fill="#ff8000"/><circle cx="667.90" cy="234.15" r="4.0" fill="none" stroke="#ff8000" stroke-width="0.9"/><circle cx="677.45" cy="234.75" r="4.0" fill="#fff"/><path d="M673.47,235.15A4.0,4.0 0 1 1 681.43,235.15Z" fill="#ff8000"/><circle cx="677.45" cy="234.75" r="4.0" fill="none" stroke="#ff8000" stroke-width="0.9"/><circle cx="687.00" cy="235.13" r="4.0" fill="#fff"/><path d="M683.02,235.53A4.0,4.0 0 1 1 690.98,235.53Z" fill="#ff8000"/><circle cx="687.00" cy="235.13" r="4.0" fill="none" stroke="#ff8000" stroke-width="0.9"/></g>
<rect x="55.2" y="8.3" width="288.20" height="235.70" stroke="#000" stroke-width="1.3" fill="none"/>
<rect x="392.9" y="7.0" width="290.00" height="237.50" stroke="#000" stroke-width="1.3" fill="none"/>
<text transform="translate(43.20,227.10) scale(1,1.05)" font-size="15" text-anchor="end">8</text>
<text transform="translate(43.20,184.22) scale(1,1.05)" font-size="15" text-anchor="end">10</text>
<text transform="translate(43.20,141.34) scale(1,1.05)" font-size="15" text-anchor="end">12</text>
<text transform="translate(43.20,98.46) scale(1,1.05)" font-size="15" text-anchor="end">14</text>
<text transform="translate(43.20,55.58) scale(1,1.05)" font-size="15" text-anchor="end">16</text>
<text transform="translate(43.20,12.70) scale(1,1.05)" font-size="15" text-anchor="end">18</text>
<text transform="translate(55.20,267.90) scale(1,1.05)" font-size="15" text-anchor="middle">200</text>
<text transform="translate(99.45,267.90) scale(1,1.05)" font-size="15" text-anchor="middle">400</text>
<text transform="translate(143.70,267.90) scale(1,1.05)" font-size="15" text-anchor="middle">600</text>
<text transform="translate(187.95,267.90) scale(1,1.05)" font-size="15" text-anchor="middle">800</text>
<text transform="translate(232.20,267.90) scale(1,1.05)" font-size="15" text-anchor="middle">1000</text>
<text transform="translate(276.45,267.90) scale(1,1.05)" font-size="15" text-anchor="middle">1200</text>
<text transform="translate(320.70,267.90) scale(1,1.05)" font-size="15" text-anchor="middle">1400</text>
<text transform="translate(380.80,233.40) scale(1,1.05)" font-size="15" text-anchor="end">0</text>
<text transform="translate(380.80,201.70) scale(1,1.05)" font-size="15" text-anchor="end">2</text>
<text transform="translate(380.80,170.00) scale(1,1.05)" font-size="15" text-anchor="end">4</text>
<text transform="translate(380.80,138.30) scale(1,1.05)" font-size="15" text-anchor="end">6</text>
<text transform="translate(380.80,106.60) scale(1,1.05)" font-size="15" text-anchor="end">8</text>
<text transform="translate(380.80,74.90) scale(1,1.05)" font-size="15" text-anchor="end">10</text>
<text transform="translate(380.80,43.20) scale(1,1.05)" font-size="15" text-anchor="end">12</text>
<text transform="translate(380.80,11.50) scale(1,1.05)" font-size="15" text-anchor="end">14</text>
<text transform="translate(427.65,268.40) scale(1,1.05)" font-size="15" text-anchor="middle">400</text>
<text transform="translate(474.02,268.40) scale(1,1.05)" font-size="15" text-anchor="middle">600</text>
<text transform="translate(520.39,268.40) scale(1,1.05)" font-size="15" text-anchor="middle">800</text>
<text transform="translate(566.76,268.40) scale(1,1.05)" font-size="15" text-anchor="middle">1000</text>
<text transform="translate(613.13,268.40) scale(1,1.05)" font-size="15" text-anchor="middle">1200</text>
<text transform="translate(659.50,268.40) scale(1,1.05)" font-size="15" text-anchor="middle">1400</text>
<path d="M47.5,222.70H55.2 M47.5,179.82H55.2 M47.5,136.94H55.2 M47.5,94.06H55.2 M47.5,51.18H55.2 M47.5,8.30H55.2 M55.20,244.0V251.8 M99.45,244.0V251.8 M143.70,244.0V251.8 M187.95,244.0V251.8 M232.20,244.0V251.8 M276.45,244.0V251.8 M320.70,244.0V251.8 M385.5,229.00H392.9 M385.5,197.30H392.9 M385.5,165.60H392.9 M385.5,133.90H392.9 M385.5,102.20H392.9 M385.5,70.50H392.9 M385.5,38.80H392.9 M385.5,7.10H392.9 M427.65,244.5V252.1 M474.02,244.5V252.1 M520.39,244.5V252.1 M566.76,244.5V252.1 M613.13,244.5V252.1 M659.50,244.5V252.1" stroke="#000" stroke-width="1.3" fill="none"/>
<text transform="translate(199.00,291.20) scale(1,1.05)" font-size="15.3" text-anchor="middle">Wavelength (nm)</text>
<text transform="translate(538.30,291.20) scale(1,1.05)" font-size="15.3" text-anchor="middle">Wavelength (nm)</text>
<text transform="translate(13.9,138.6) rotate(-90)" font-size="18">ε</text>
<path d="M1.65,127.15 L7.20,128.65 L7.00,129.05 L1.65,129.45 A1.15,1.15 0 0 1 1.65,127.15Z" fill="#000"/>
<text transform="translate(362.9,140.4) rotate(-90)" font-size="18">ε</text>
<path d="M351.00,124.10 L355.80,125.55 L355.60,125.95 L351.00,126.30 A1.10,1.10 0 0 1 351.00,124.10Z" fill="#000"/>
<path d="M351.00,129.20 L355.80,130.65 L355.60,131.05 L351.00,131.40 A1.10,1.10 0 0 1 351.00,129.20Z" fill="#000"/>
<text x="58.5" y="26.8" font-size="18">(a)</text>
<text x="397" y="24.8" font-size="18">(b)</text>
<path d="M246.3,18.3H284.2" stroke="#000" stroke-width="2.6" stroke-linecap="round"/><circle cx="265.2" cy="18.5" r="4.0" fill="#fff"/><path d="M261.22,18.90A4.0,4.0 0 1 1 269.18,18.90Z" fill="#000"/><circle cx="265.2" cy="18.5" r="4.0" fill="none" stroke="#000" stroke-width="0.9"/>
<text transform="translate(288.60,24.90) scale(1,1.05)" font-size="15">x = 0</text>
<path d="M246.3,39.8H284.2" stroke="#0000ff" stroke-width="2.6" stroke-linecap="round"/><circle cx="265.2" cy="40.1" r="4.0" fill="#fff"/><path d="M261.22,40.50A4.0,4.0 0 1 1 269.18,40.50Z" fill="#0000ff"/><circle cx="265.2" cy="40.1" r="4.0" fill="none" stroke="#0000ff" stroke-width="0.9"/>
<text transform="translate(288.60,46.00) scale(1,1.05)" font-size="15">x = 0.25</text>
<path d="M585.5,17.6H622.8" stroke="#000" stroke-width="2.6" stroke-linecap="round"/><circle cx="604.1" cy="17.8" r="4.0" fill="#fff"/><path d="M600.12,18.20A4.0,4.0 0 1 1 608.08,18.20Z" fill="#000"/><circle cx="604.1" cy="17.8" r="4.0" fill="none" stroke="#000" stroke-width="0.9"/>
<text transform="translate(627.60,24.10) scale(1,1.05)" font-size="15">x = 0</text>
<path d="M585.5,38.4H622.8" stroke="#ff8000" stroke-width="2.6" stroke-linecap="round"/><circle cx="604.1" cy="38.6" r="4.0" fill="#fff"/><path d="M600.12,39.00A4.0,4.0 0 1 1 608.08,39.00Z" fill="#ff8000"/><circle cx="604.1" cy="38.6" r="4.0" fill="none" stroke="#ff8000" stroke-width="0.9"/>
<text transform="translate(627.60,44.70) scale(1,1.05)" font-size="15">x = 0.25</text>
</svg></body></html>
